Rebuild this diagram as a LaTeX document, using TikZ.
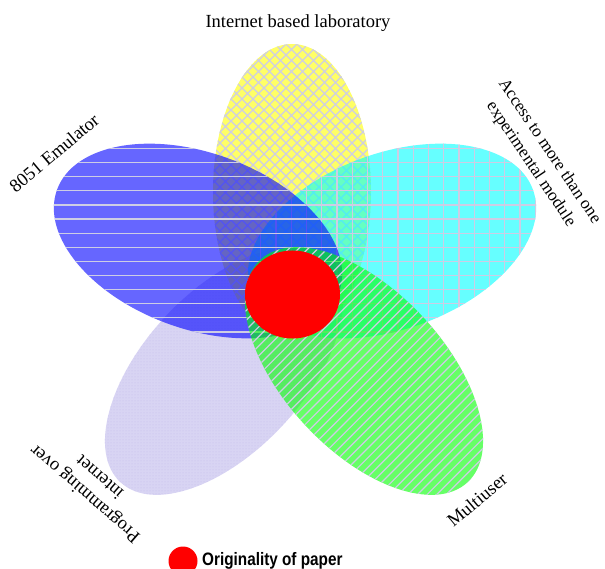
\documentclass[tikz,border=0pt]{standalone}
\usepackage{fontspec}
\setmainfont{Liberation Serif}
\newfontfamily\legendfont[FakeStretch=0.85]{Liberation Sans}
\usetikzlibrary{patterns}
\definecolor{hatch}{RGB}{205,205,228}
\definecolor{lav}{RGB}{216,212,243}
\definecolor{lavdot}{RGB}{196,188,236}
\definecolor{petalyellow}{RGB}{255,255,0}
\definecolor{petalcyan}{RGB}{0,255,255}
\definecolor{petalblue}{RGB}{0,0,255}
\definecolor{petalgreen}{RGB}{0,255,0}
\definecolor{centrered}{RGB}{255,0,0}
\tikzset{
  lbl/.style={font=\fontsize{18.5}{22.5}\selectfont, align=center, inner sep=0pt},
  lblsmall/.style={font=\fontsize{17.3}{22.5}\selectfont, align=center, inner sep=0pt},
  petalfill/.style={fill opacity=0.6},
  hatchline/.style={draw=hatch, line width=1.2pt},
}
\begin{document}
\begin{tikzpicture}[x=1pt,y=-1pt]
\useasboundingbox (0,0) rectangle (605,569);
% lavender petal (lower left)
\begin{scope}
  \clip[rotate around={47:(224,371)}] (224,371) ellipse [x radius=152pt, y radius=80pt];
  \fill[lav] (0,0) rectangle (605,569);
  \fill[pattern=dots, pattern color=lavdot] (0,0) rectangle (605,569);
\end{scope}
% yellow petal (top)
\begin{scope}
  \clip (292,192) ellipse [x radius=79pt, y radius=148pt];
  \fill[petalyellow, petalfill] (0,0) rectangle (605,569);
  \foreach \k in {-15,...,70} {
    \draw[hatchline] ({\k*11},0) -- ({\k*11+600},600);
    \draw[hatchline] ({\k*11},0) -- ({\k*11-600},600);
  }
\end{scope}
% cyan petal (upper right)
\begin{scope}
  \clip[rotate around={20:(392,241)}] (392,241) ellipse [x radius=150pt, y radius=88pt];
  \fill[petalcyan, petalfill] (0,0) rectangle (605,569);
  \foreach \k in {-12,...,9}
    \draw[hatchline] ({413.3+15.25*\k},100) -- ({413.3+15.25*\k},400);
  \foreach \k in {-2,...,13}
    \draw[hatchline] (200,{162.7+14.1*\k}) -- (600,{162.7+14.1*\k});
\end{scope}
% blue petal (upper left)
\begin{scope}
  \clip[rotate around={-20:(198,241)}] (198,241) ellipse [x radius=150pt, y radius=88pt];
  \fill[petalblue, petalfill] (0,0) rectangle (605,569);
  \foreach \k in {-2,...,13}
    \draw[hatchline] (0,{162.7+14.1*\k}) -- (400,{162.7+14.1*\k});
\end{scope}
% green petal (lower right)
\begin{scope}
  \clip[rotate around={-47:(364,371)}] (364,371) ellipse [x radius=152pt, y radius=80pt];
  \fill[petalgreen, petalfill] (0,0) rectangle (605,569);
  \foreach \k in {50,...,106}
    \draw[hatchline] ({\k*9.6},0) -- ({\k*9.6-600},600);
\end{scope}
% centre
\fill[centrered] (292.5,294.5) ellipse [x radius=47.5pt, y radius=44pt];
% labels
\node[lbl] (lab) at (298,23) {Internet based laboratory};
\node[lbl, rotate=40] (emu) at (54,153) {8051 Emulator};
\node[lblsmall, rotate=-56] (acc) at (540,158) {Access to more than one\\experimental module};
\node[lbl, rotate=40] (mu) at (477,500) {Multiuser};
\node[lbl, rotate=139] (prog) at (92,486) {Programming over\\internet};
% legend
\fill[centrered] (183,561) circle [radius=14.5pt];
\node[anchor=base west, inner sep=0pt, font=\legendfont\bfseries\fontsize{18}{20}\selectfont] (leg) at (202,565.5) {Originality of paper};
\end{tikzpicture}
\end{document}
